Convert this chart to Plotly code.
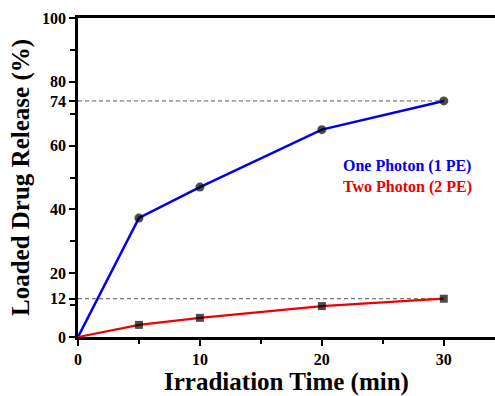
import plotly.graph_objects as go

time_min = [0, 5, 10, 20, 30]
one_photon = [0, 37.3, 47, 65, 74]
two_photon = [0, 3.8, 6, 9.7, 12]
ref_levels = [74, 12]
y_tickvals = [0, 12, 20, 40, 60, 74, 80, 100]
y_minor = [10, 30, 50, 70, 90]
x_tickvals = [0, 10, 20, 30]
x_minor = [5, 15, 25]

FONT = "Liberation Serif"

fig = go.Figure()

for lvl in ref_levels:
    fig.add_trace(go.Scatter(x=[0, 30], y=[lvl, lvl], mode="lines",
                             line=dict(color="#555555", width=1, dash="4px,3px"),
                             hoverinfo="skip", showlegend=False))

fig.add_trace(go.Scatter(x=time_min, y=one_photon, mode="lines+markers",
                         line=dict(color="#0000ee", width=2.5),
                         marker=dict(symbol="circle", color="black", size=[4, 9, 9, 9, 9],
                                     line=dict(width=0)),
                         showlegend=False))
fig.add_trace(go.Scatter(x=time_min, y=two_photon, mode="lines+markers",
                         line=dict(color="#ee0000", width=2.2),
                         marker=dict(symbol="square", color="black", size=[0, 8, 8, 8, 8],
                                     line=dict(width=0)),
                         showlegend=False))

fig.add_annotation(x=(407 - 78) / 417, y=(337 - 166) / 319, xref="paper", yref="paper",
                   xanchor="center", yanchor="middle",
                   text="<b>One Photon (1 PE)</b>", showarrow=False,
                   font=dict(family=FONT, size=16, color="#0000ee"))
fig.add_annotation(x=(407 - 78) / 417, y=(337 - 187) / 319, xref="paper", yref="paper",
                   xanchor="center", yanchor="middle",
                   text="<b>Two Photon (2 PE)</b>", showarrow=False,
                   font=dict(family=FONT, size=16, color="#ee0000"))

fig.update_layout(
    width=495, height=396,
    margin=dict(l=78, r=0, t=18, b=59),
    paper_bgcolor="white", plot_bgcolor="white",
    font=dict(family=FONT, color="black"),
    xaxis=dict(range=[0, 34.2], tickvals=x_tickvals, ticktext=[f"<b>{v}</b>" for v in x_tickvals],
               ticks="outside", ticklen=6, tickwidth=2, tickcolor="black",
               minor=dict(tickvals=x_minor, ticks="outside", ticklen=4, tickwidth=2, tickcolor="black"),
               showline=True, linecolor="black", linewidth=2.5, mirror=True,
               showgrid=False, zeroline=False,
               tickfont=dict(family=FONT, size=16),
               title=dict(text="<b>Irradiation Time (min)</b>", font=dict(family=FONT, size=25), standoff=6)),
    yaxis=dict(range=[0, 100], tickvals=y_tickvals, ticktext=[f"<b>{v}</b>" for v in y_tickvals],
               ticks="outside", ticklen=6, tickwidth=2, tickcolor="black",
               minor=dict(tickvals=y_minor, ticks="outside", ticklen=5, tickwidth=2, tickcolor="black"),
               showline=True, linecolor="black", linewidth=2.5, mirror=False,
               showgrid=False, zeroline=False,
               tickfont=dict(family=FONT, size=16),
               title=dict(text="<b>Loaded Drug Release (%)</b>", font=dict(family=FONT, size=25), standoff=6)),
)

fig.write_html("out.html")
